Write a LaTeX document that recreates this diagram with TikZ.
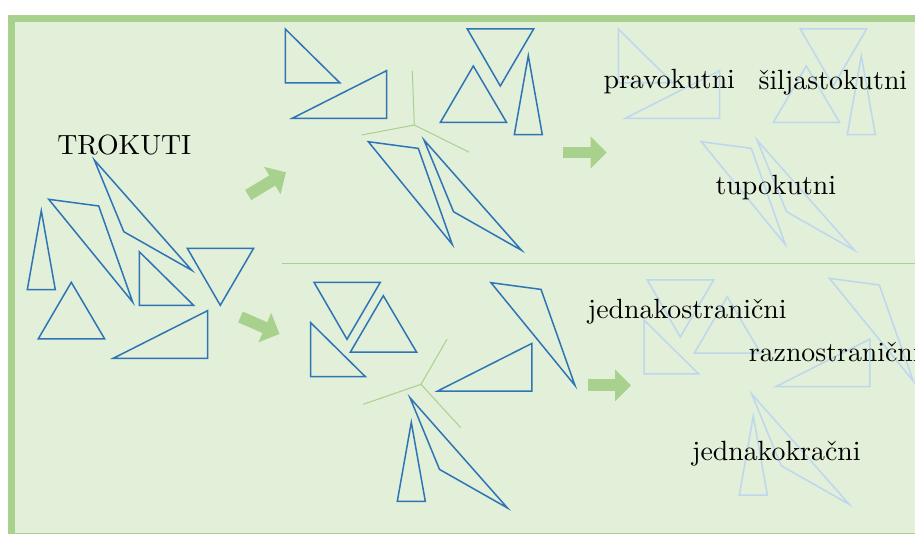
\documentclass[tikz,border=0pt]{standalone}
\usepackage{fontspec}
\usetikzlibrary{arrows.meta}
\definecolor{bgc}{HTML}{E2EFD9}
\definecolor{grn}{HTML}{A9D18E}
\definecolor{blu}{HTML}{2E75B6}
\definecolor{fad}{HTML}{BDD7EE}
\newcommand\trA{(0,0) -- (-14,79) -- (14,79) -- cycle}
\newcommand\trB{(0,0) -- (-33,56.5) -- (33.3,56.5) -- cycle}
\newcommand\trC{(0,0) -- (50,6.7) -- (84,102.8) -- cycle}
\newcommand\trD{(0,0) -- (29.5,71.7) -- (97.5,110.3) -- cycle}
\newcommand\trE{(0,0) -- (0,53.8) -- (54.5,53.8) -- cycle}
\newcommand\trF{(0,0) -- (66.3,0) -- (33,57) -- cycle}
\newcommand\trG{(0,0) -- (94.2,-47.6) -- (94.2,0) -- cycle}
\tikzset{
  tri/.style={draw=blu, line width=1.5pt, line join=miter},
  ftri/.style={draw=fad, line width=1.5pt, line join=miter},
  bigarrow/.style={draw=grn, line width=11.8pt, -{Triangle[width=31pt,length=16pt]}},
  splitline/.style={draw=grn, line width=1pt},
  lbl/.style={anchor=base west, inner sep=0pt, font=\fontsize{10}{12}\selectfont, scale=2.78}
}
\begin{document}
\begin{tikzpicture}[x=1pt,y=-1pt]
\clip (0,0) rectangle (915,534);
\fill[white] (0,0) rectangle (915,534);
\fill[grn] (8,15) rectangle (930,540);
\fill[bgc] (15,22) rectangle (930,532.7);
% separator
\coordinate (sepL) at (282.3,264);
\coordinate (sepR) at (930,264);
\draw[splitline] (sepL) -- (sepR);
% left group
\draw[tri, shift={(41.3,210.7)}] \trA;
\draw[tri, shift={(71.3,282.3)}] \trB;
\draw[tri, shift={(48.7,199.3)}] \trC;
\draw[tri, shift={(94.3,160)}] \trD;
\draw[tri, shift={(139.3,251.7)}] \trE;
\draw[tri, shift={(187.3,248.3)}] \trF;
\draw[tri, shift={(113.3,358.3)}] \trG;
% upper group
\draw[tri, shift={(285.3,29)}] \trE;
\draw[tri, shift={(292.3,118.3)}] \trG;
\draw[tri, shift={(467.3,29)}] \trF;
\draw[tri, shift={(473.3,66)}] \trB;
\draw[tri, shift={(528.3,55.7)}] \trA;
\draw[tri, shift={(368.3,141.7)}] \trC;
\draw[tri, shift={(424,140)}] \trD;
% lower group
\draw[tri, shift={(314,282.3)}] \trF;
\draw[tri, shift={(383.3,295.7)}] \trB;
\draw[tri, shift={(310.7,322.7)}] \trE;
\draw[tri, shift={(491,282.7)}] \trC;
\draw[tri, shift={(437.7,391)}] \trG;
\draw[tri, shift={(410,397.7)}] \trD;
\draw[tri, shift={(411.3,422.3)}] \trA;
% split lines
\coordinate (uc) at (414.3,125);
\coordinate (u1) at (412.3,71);
\coordinate (u2) at (361.7,135);
\coordinate (u3) at (469.3,152.3);
\draw[splitline] (uc) -- (u1) (uc) -- (u2) (uc) -- (u3);
\coordinate (lc) at (421,384.3);
\coordinate (l1) at (447,339.3);
\coordinate (l2) at (363.3,404.3);
\coordinate (l3) at (460.7,427.7);
\draw[splitline] (lc) -- (l1) (lc) -- (l2) (lc) -- (l3);
% faded upper
\draw[ftri, shift={(618.3,29)}] \trE;
\draw[ftri, shift={(625.3,118.3)}] \trG;
\draw[ftri, shift={(800.3,29)}] \trF;
\draw[ftri, shift={(806.3,66)}] \trB;
\draw[ftri, shift={(861.3,55.7)}] \trA;
\draw[ftri, shift={(701.3,141.7)}] \trC;
\draw[ftri, shift={(757,140)}] \trD;
% faded lower
\draw[ftri, shift={(647.3,280)}] \trF;
\draw[ftri, shift={(727.3,296.7)}] \trB;
\draw[ftri, shift={(644,320)}] \trE;
\draw[ftri, shift={(829.3,278.3)}] \trC;
\draw[ftri, shift={(775.7,386.7)}] \trG;
\draw[ftri, shift={(751.7,394)}] \trD;
\draw[ftri, shift={(753.3,416)}] \trA;
% arrows
\coordinate (a1t) at (248.2,195);
\coordinate (a1h) at (286,172.3);
\coordinate (a2t) at (240.5,317);
\coordinate (a2h) at (279.5,334);
\coordinate (a3t) at (563.3,152.5);
\coordinate (a3h) at (606.7,152.5);
\coordinate (a4t) at (587.7,385.3);
\coordinate (a4h) at (631,385.3);
\draw[bigarrow] (a1t) -- (a1h);
\draw[bigarrow] (a2t) -- (a2h);
\draw[bigarrow] (a3t) -- (a3h);
\draw[bigarrow] (a4t) -- (a4h);
% labels
\node[lbl] (trokuti) at (56.7,155) {TROKUTI};
\node[lbl] (pravo) at (603,89) {pravokutni};
\node[lbl] (silj) at (758,89.5) {šiljastokutni};
\node[lbl] (tupo) at (715,195) {tupokutni};
\node[lbl] (jednakos) at (587.3,318.3) {jednakostranični};
\node[lbl] (razno) at (748.3,361) {raznostranični};
\node[lbl] (jednakok) at (691.5,460) {jednakokračni};
\end{tikzpicture}
\end{document}
